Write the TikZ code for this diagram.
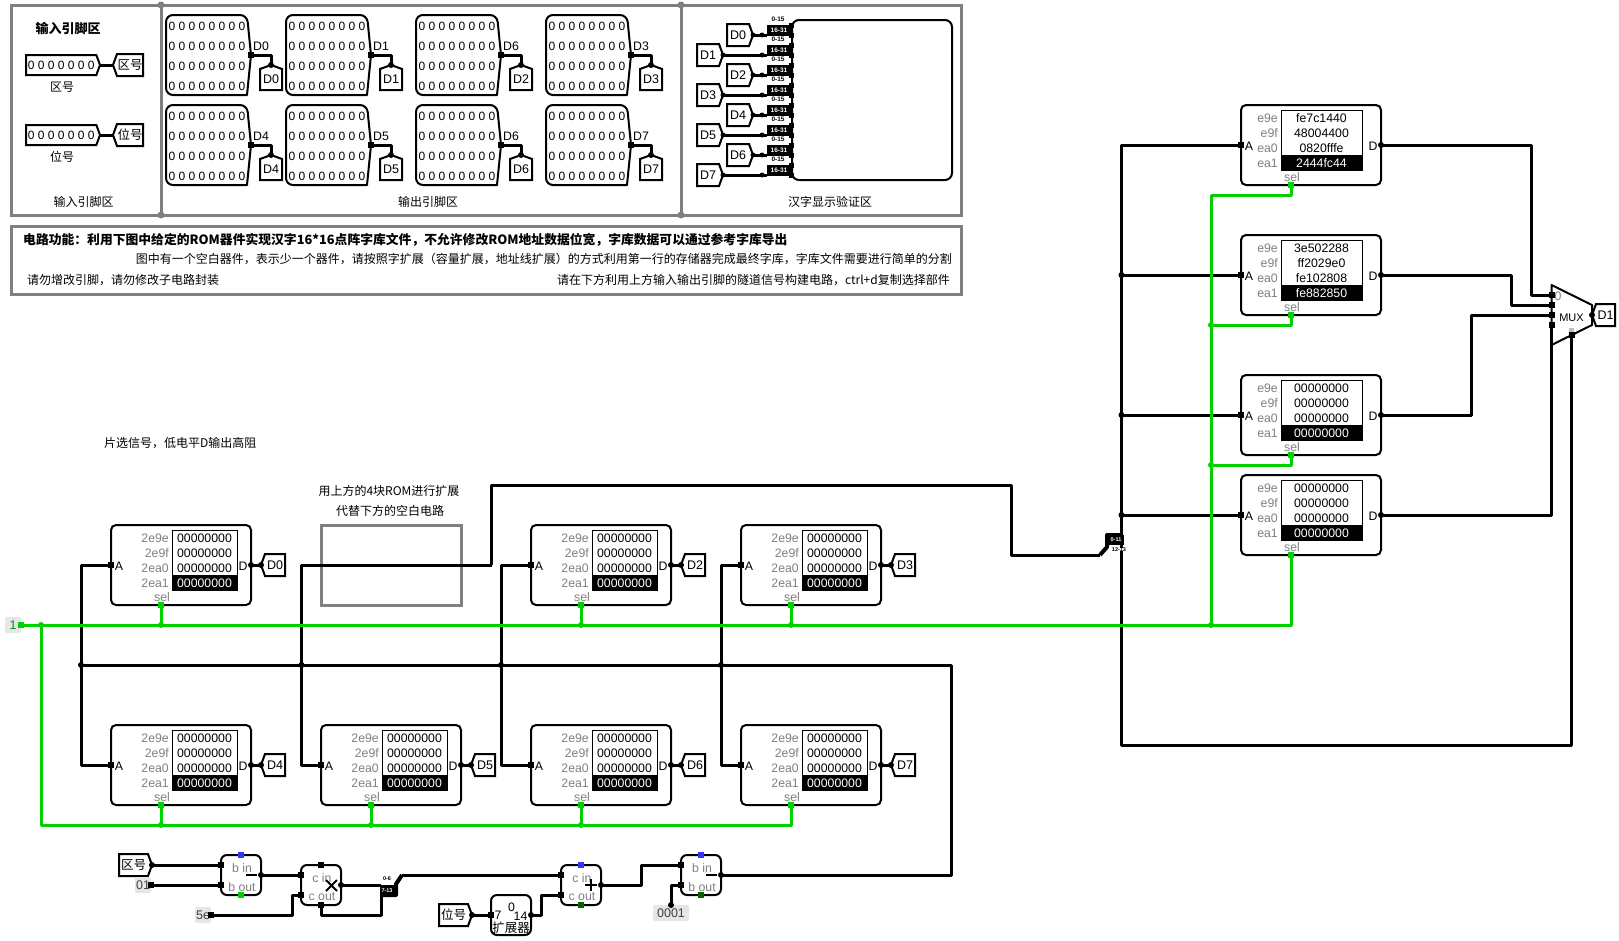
\documentclass[tikz,border=0pt]{standalone}
\usepackage{fontspec}
\setmainfont{Liberation Sans}
\newfontfamily\cjk{Noto Sans CJK SC}
\usetikzlibrary{shapes.geometric, shapes.symbols, arrows, calc, positioning}
\definecolor{wiregreen}{HTML}{00D200}
\definecolor{darkport}{HTML}{006400}
\definecolor{blueport}{HTML}{3333FF}
\definecolor{framegray}{HTML}{808080}
\definecolor{constgray}{HTML}{E6E6E6}
\tikzstyle{wire} = [line width=3pt, line join=round, black]
\tikzstyle{greenwire} = [line width=3pt, line join=round, wiregreen]
\tikzstyle{frame} = [rectangle, line width=3pt, draw=framegray, inner sep=0pt, outer sep=0pt, anchor=north west]
\tikzstyle{rombox} = [rectangle, line width=2pt, draw=black, rounded corners=5pt, minimum width=140pt, minimum height=80pt, inner sep=0pt, outer sep=0pt]
\tikzstyle{pinline} = [line width=2pt, black, line join=round]
\tikzstyle{cn} = [font=\cjk\fontsize{12}{14}\selectfont, inner sep=0pt]
\tikzstyle{cnbold} = [cn, font=\cjk\bfseries\fontsize{12.8}{14}\selectfont]
\tikzstyle{romtext} = [font=\fontsize{12.3}{14}\selectfont, inner sep=0pt]
\tikzstyle{romgray} = [romtext, text=framegray]
\tikzstyle{pintext} = [font=\fontsize{12}{20}\selectfont, inner sep=0pt, align=center]
\tikzstyle{tinytext} = [font=\bfseries\fontsize{6.5}{6.5}\selectfont, inner sep=0pt]
\tikzstyle{splittext} = [tinytext, font=\bfseries\fontsize{5.5}{6}\selectfont]
\tikzstyle{tunnelR} = [signal, signal to=east, signal pointer angle=140, draw, line width=2pt, minimum height=22pt, inner sep=0pt, outer sep=0pt, font=\fontsize{12.5}{14}\selectfont]
\tikzstyle{tunnelL} = [tunnelR, signal to=west]
\tikzstyle{tunnelD} = [tunnelR, signal to=north, minimum width=22pt, minimum height=24pt]
\tikzstyle{constbox} = [rectangle, fill=constgray, rounded corners=2pt, inner sep=0pt, minimum height=16pt, font=\fontsize{12.5}{14}\selectfont, text=black!75]
\newcommand{\sqport}[2][black]{\fill[#1] ($(#2)+(-3,-3)$) rectangle ($(#2)+(3,3)$);}
\newcommand{\dotport}[1]{\fill (#1) circle (3);}
\def\romblank{2e9e/00000000,2e9f/00000000,2ea0/00000000,2ea1/00000000}
\def\romone{e9e/fe7c1440,e9f/48004400,ea0/0820fffe,ea1/2444fc44}
\def\romtwo{e9e/3e502288,e9f/ff2029e0,ea0/fe102808,ea1/fe882850}
\def\romzero{e9e/00000000,e9f/00000000,ea0/00000000,ea1/00000000}
\newcommand{\rom}[6]{%
	\begin{scope}[shift={(#2,#3)}]
		\node (#1) [rombox, anchor=north west] at (0,0) {};
		\draw[line width=1pt] (#4,5) rectangle (#5,65);
		\fill (#4,50) rectangle (#5,65);
		\foreach \addr/\val [count=\i] in #6 {
			\node (#1Addr\i) [romgray, anchor=east] at (#4-3,{13.2+15*(\i-1)}) {\addr};
			\node (#1Val\i) [romtext] at ({(#4+#5)/2},{13.2+15*(\i-1)}) {\ifnum\i=4 \color{white}\fi\val};
		}
		\node (#1LabA) [romtext] at (8,41) {A};
		\node (#1LabD) [romtext] at (132,41) {D};
		\node (#1LabSel) [romgray] at (51,72) {sel};
		\coordinate (#1Sel) at (50,80);
		\sqport{#1.west}
		\dotport{#1.east}
		\sqport[wiregreen]{#1Sel}
	\end{scope}}
\newcommand{\outpin}[5]{%
	\begin{scope}[shift={(#2,#3)}]
		\draw[pinline] (81,0) -- (85,40) -- (81,80) [rounded corners=7pt] -- (0,80) -- (0,0) -- cycle;
		\node (#1Txt) [pintext] at (41,41.5) {0 0 0 0 0 0 0 0\\0 0 0 0 0 0 0 0\\0 0 0 0 0 0 0 0\\0 0 0 0 0 0 0 0};
		\node (#1Lab) [romtext] at (95,31) {#4};
		\coordinate (#1Tip) at (85,40);
		\node (#1Tun) [tunnelD, anchor=north] at (105,50) {#5};
		\draw[wire] (#1Tip) -| (#1Tun.north);
		\sqport{#1Tip}
		\dotport{#1Tun.north}
	\end{scope}}
\newcommand{\arith}[7]{%
	\begin{scope}[shift={(#2,#3)}]
		\node (#1) [rombox, minimum width=40pt, minimum height=40pt, rounded corners=6pt, anchor=north west] at (0,0) {};
		\node (#1In) [romgray] at (21,13) {#4};
		\node (#1Out) [romgray] at (21,32) {#5};
		\coordinate (#1A) at (0,10);
		\coordinate (#1B) at (0,30);
		\coordinate (#1R) at (40,20);
		\coordinate (#1T) at (20,0);
		\coordinate (#1S) at (20,40);
		\sqport{#1A}
		\sqport{#1B}
		\dotport{#1R}
		\sqport[#6]{#1T}
		\sqport[#7]{#1S}
	\end{scope}}

\begin{document}
\begin{tikzpicture}[x=1pt, y=-1pt]
	\useasboundingbox (0,0) rectangle (1619,940);

	% top frames
	\node (InputArea) [frame, minimum width=150pt, minimum height=210pt] at (11,5) {};
	\node (OutputArea) [frame, minimum width=520pt, minimum height=210pt, right = 0pt of InputArea] {};
	\node (DisplayArea) [frame, minimum width=280pt, minimum height=210pt, right = 0pt of OutputArea] {};
	\node (NoteArea) [frame, minimum width=950pt, minimum height=68pt] at (11,226) {};
	\foreach \pt in {InputArea.north east, InputArea.south east, OutputArea.north east, OutputArea.south east}
		\fill[framegray] (\pt) circle (3.5);

	\node (InputTitle) [cnbold, font=\cjk\bfseries\fontsize{13}{14}\selectfont] at (68,28) {输入引脚区};
	\node (InputName) [cn] at (83.5,202) {输入引脚区};
	\node (OutputName) [cn] at (428,202) {输出引脚区};
	\node (DisplayName) [cn] at (830,202) {汉字显示验证区};

	% input pins
	\node (PinArea) [tunnelR, anchor=east, minimum width=74pt, minimum height=20pt, font=\fontsize{12}{14}\selectfont] at (100,65) {0 0 0 0 0 0 0};
	\node (TunArea) [tunnelL, anchor=west, minimum width=30pt, font=\cjk\fontsize{12.5}{14}\selectfont] at (113,65) {区号};
	\node (LabArea) [cn] at (62,87) {区号};
	\node (PinPlace) [tunnelR, anchor=east, minimum width=74pt, minimum height=20pt, font=\fontsize{12}{14}\selectfont] at (100,135) {0 0 0 0 0 0 0};
	\node (TunPlace) [tunnelL, anchor=west, minimum width=30pt, font=\cjk\fontsize{12.5}{14}\selectfont] at (113,135) {位号};
	\node (LabPlace) [cn] at (62,157) {位号};
	\draw[wire] (PinArea.east) -- (TunArea.west);
	\draw[wire] (PinPlace.east) -- (TunPlace.west);

	% output pins
	\foreach \pinname/\px/\py/\lab/\tun in {PinA/166/15/D0/D0, PinB/286/15/D1/D1, PinC/416/15/D6/D2, PinD/546/15/D3/D3,
		PinE/166/105/D4/D4, PinF/286/105/D5/D5, PinG/416/105/D6/D6, PinH/546/105/D7/D7} {
		\outpin{\pinname}{\px}{\py}{\lab}{\tun}
	}

	% display with its splitters
	\node (Display) [rombox, minimum width=160pt, minimum height=160pt, rounded corners=7pt, anchor=north west] at (792,20) {};
	\foreach \name/\tipx/\tipy in {D0/753/35, D1/723/55, D2/753/75, D3/723/95, D4/753/115, D5/723/135, D6/753/155, D7/723/175} {
		\node (Tun\name) [tunnelR, anchor=east, minimum width=26pt] at (\tipx,\tipy) {\name};
		\coordinate (Spl\name) at (767,\tipy);
		\draw[wire] (Tun\name.east) -- (Spl\name);
		\fill (Tun\name.east) circle (2.5);
		\fill (762,\tipy) circle (2.5);
		\fill (767,\tipy-10) rectangle (791,\tipy+1);
		\node (SplLow\name) [tinytext] at (778,\tipy-15.5) {0-15};
		\node (SplHigh\name) [tinytext, text=white] at (779,\tipy-5) {16-31};
	}
	\foreach \py in {25,35,...,175}
		\fill (789,\py-2.5) rectangle (794,\py+2.5);

	% notes
	\node (NoteOne) [cnbold, anchor=west] at (23,240) {电路功能：利用下图中给定的ROM器件实现汉字16*16点阵字库文件，不允许修改ROM地址数据位宽，字库数据可以通过参考字库导出};
	\node (NoteTwo) [cn, anchor=east] at (952,259) {图中有一个空白器件，表示少一个器件，请按照字扩展（容量扩展，地址线扩展）的方式利用第一行的存储器完成最终字库，字库文件需要进行简单的分割};
	\node (NoteThree) [cn, anchor=west] at (27,280) {请勿增改引脚，请勿修改子电路封装};
	\node (NoteFour) [cn, anchor=east] at (950,280) {请在下方利用上方输入输出引脚的隧道信号构建电路，ctrl+d复制选择部件};
	\node (NoteSel) [cn, anchor=west] at (104,443) {片选信号，低电平D输出高阻};
	\node (NoteRomA) [cn] at (389,491) {用上方的4块ROM进行扩展};
	\node (NoteRomB) [cn] at (390,511) {代替下方的空白电路};

	% roms of the lower two rows
	\rom{RomD0}{111}{525}{61}{126}{\romblank}
	\node (RomEmpty) [frame, minimum width=140pt, minimum height=80pt] at (321,525) {};
	\rom{RomD2}{531}{525}{61}{126}{\romblank}
	\rom{RomD3}{741}{525}{61}{126}{\romblank}
	\rom{RomD4}{111}{725}{61}{126}{\romblank}
	\rom{RomD5}{321}{725}{61}{126}{\romblank}
	\rom{RomD6}{531}{725}{61}{126}{\romblank}
	\rom{RomD7}{741}{725}{61}{126}{\romblank}
	% roms of the right column
	\rom{RomHa}{1241}{105}{40}{121}{\romone}
	\rom{RomHb}{1241}{235}{40}{121}{\romtwo}
	\rom{RomHc}{1241}{375}{40}{121}{\romzero}
	\rom{RomHd}{1241}{475}{40}{121}{\romzero}

	\foreach \name in {D0,D2,D3,D4,D5,D6,D7} {
		\node (Out\name) [tunnelL, anchor=west, minimum width=24pt, right = 10pt of Rom\name.east] {\name};
		\draw[wire] (Rom\name.east) -- (Out\name.west);
		\dotport{Out\name.west}
	}

	% address bus
	\coordinate (BusA) at (81,665);
	\coordinate (BusB) at (301.5,665);
	\coordinate (BusC) at (501,665);
	\coordinate (BusD) at (721,665);
	\coordinate (BusEnd) at (951,665);
	\coordinate (TurnB) at (491.5,565);
	\coordinate (TurnC) at (491.5,485);
	\coordinate (TurnD) at (1011.5,485);
	\coordinate (TurnE) at (1011.5,555);
	\coordinate (SplIn) at (1100,555);
	\coordinate (SplAddr) at (1121.5,535);
	\coordinate (SplHigh) at (1121.5,545);
	\coordinate (SelEnd) at (1571.5,745);
	\draw[wire] (RomD0.west) -| (BusA) |- (RomD4.west);
	\draw[wire] (TurnB) -| (BusB) |- (RomD5.west);
	\draw[wire] (RomD2.west) -| (BusC) |- (RomD6.west);
	\draw[wire] (RomD3.west) -| (BusD) |- (RomD7.west);
	\draw[wire] (TurnB) -- (TurnC) -- (TurnD) -- (TurnE) -- (SplIn);
	\foreach \pt in {BusA, BusB, BusC, BusD} {
		\dotport{\pt}
	}

	% mux
	\coordinate (MuxA) at (1551.5,295);
	\coordinate (MuxB) at (1551.5,305);
	\coordinate (MuxC) at (1551.5,315);
	\coordinate (MuxD) at (1551.5,325);
	\coordinate (MuxSel) at (1571.5,335);
	\coordinate (MuxOut) at (1592,315);
	\draw[pinline] (1551.5,285) -- (1592,305) -- (1592,325) -- (1551.5,345) -- cycle;
	\node (MuxZero) [romgray] at (1558,296) {0};
	\node (MuxName) [romtext, font=\fontsize{11}{14}\selectfont] at (1571.5,318) {MUX};
	\node (TunD1) [tunnelL, anchor=west, minimum width=23pt] at (MuxOut) {D1};
	\draw[wire] (RomHa.east) -| (1531.5,295) -- (MuxA);
	\draw[wire] (RomHb.east) -| (1511.5,305) -- (MuxB);
	\draw[wire] (RomHc.east) -| (1471.5,315) -- (MuxC);
	\draw[wire] (RomHd.east) -| (MuxD);
	\draw[wire] (SplHigh) |- (SelEnd) -- (MuxSel);
	\foreach \pt in {MuxA, MuxB, MuxC, MuxD} {
		\sqport{\pt}
	}
	\sqport{MuxSel}
	\fill[black!25] (1569,328) rectangle (1574,332);
	\dotport{MuxOut}

	% right column address
	\draw[wire] (RomHa.west) -| (SplHigh);
	\foreach \name in {RomHb, RomHc, RomHd} {
		\draw[wire] (\name.west -| SplAddr) -- (\name.west);
		\fill (\name.west -| SplAddr) circle (3);
	}
	% splitter on the address bus
	\draw[line width=4pt, line join=round] (SplIn) -- (1107,547) -- (1107,535) -- (SplAddr);
	\fill (1107,535) rectangle (1124,544.5);
	\node (SplLowAddr) [splittext, text=white] at (1116,540) {0-11};
	\node (SplHighAddr) [splittext, fill=white] at (1119,549.5) {12-13};

	% chip select
	\coordinate (SelIn) at (21,625);
	\coordinate (SelLeft) at (41,625);
	\coordinate (SelDown) at (41,825);
	\coordinate (SelCol) at (1211,625);
	\coordinate (SelColTop) at (1211,195);
	\node (ConstOne) [constbox, minimum width=16pt, text=wiregreen!70!black] at (13,625) {1};
	\draw[greenwire] (SelIn) -- (RomHdSel |- SelIn) -- (RomHdSel);
	\draw[greenwire] (SelLeft) -- (SelDown) -| (RomD7Sel);
	\draw[greenwire] (SelCol) -- (SelColTop) -| (RomHaSel);
	\draw[greenwire] (RomHbSel) |- (1211,325);
	\draw[greenwire] (RomHcSel) |- (1211,465);
	\foreach \name in {RomD0, RomD2, RomD3} {
		\draw[greenwire] (\name Sel) -- (\name Sel |- SelIn);
		\fill[wiregreen] (\name Sel |- SelIn) circle (3);
	}
	\foreach \name in {RomD4, RomD5, RomD6} {
		\draw[greenwire] (\name Sel) -- (\name Sel |- SelDown);
		\fill[wiregreen] (\name Sel |- SelDown) circle (3);
	}
	\foreach \pt in {SelLeft, SelCol}
		\fill[wiregreen] (\pt) circle (3);
	\fill[wiregreen] (1211,325) circle (3);
	\fill[wiregreen] (1211,465) circle (3);
	\sqport[wiregreen]{SelIn}

	% address calculation
	\arith{SubA}{221}{855}{b in}{b out}{blueport}{wiregreen}
	\arith{Mul}{301}{865}{c in}{c out}{black}{black}
	\arith{Add}{561}{865}{c in}{c out}{blueport}{darkport}
	\arith{SubB}{681}{855}{b in}{b out}{blueport}{darkport}
	\draw[line width=2pt] (246,875) -- (257,875);
	\draw[line width=2pt] (326,880) -- (337,891) (326,891) -- (337,880);
	\draw[line width=2pt] (585,885) -- (597,885) (591,879) -- (591,891);
	\draw[line width=2pt] (706,875) -- (717,875);

	\node (TunAreaB) [tunnelR, anchor=east, minimum width=33pt, font=\cjk\fontsize{12.5}{14}\selectfont] at (152,865) {区号};
	\node (ConstZero) [constbox, minimum width=16pt] at (143,885) {01};
	\node (ConstMul) [constbox, minimum width=16pt] at (203,915) {5e};
	\node (ConstSub) [constbox, minimum width=36pt] at (671,913) {0001};
	\node (TunPlaceB) [tunnelR, anchor=east, minimum width=33pt, font=\cjk\fontsize{12.5}{14}\selectfont] at (472,915) {位号};
	\node (Extend) [rombox, minimum width=40pt, minimum height=40pt, rounded corners=6pt, anchor=north west] at (491,895) {};
	\node (ExtZero) [romtext] at (511.5,907) {0};
	\node (ExtIn) [romtext] at (498,915) {7};
	\node (ExtOut) [romtext] at (520.5,916) {14};
	\node (ExtName) [cn, font=\cjk\fontsize{12.5}{14}\selectfont] at (511,928) {扩展器};
	\coordinate (ExtA) at (491,915);
	\coordinate (ExtB) at (531,915);
	\coordinate (SplMul) at (381,885);
	\coordinate (SplExt) at (381,895);
	\coordinate (SplOut) at (402,875);
	\coordinate (ConstOneR) at (151,885);
	\coordinate (ConstMulR) at (211,915);
	\coordinate (ConstSubT) at (671,905);

	\draw[wire] (TunAreaB.east) -- (SubAA);
	\draw[wire] (ConstOneR) -- (SubAB);
	\draw[wire] (SubAR) -- (MulA);
	\draw[wire] (MulR) -- (SplMul);
	\draw[wire] (ConstMulR) -| (292,895) -- (MulB);
	\draw[wire] (MulS) |- (381,915) -- (SplExt);
	\draw[wire] (SplOut) -- (AddA);
	\draw[line width=4pt, line join=round] (SplExt) -- (396,895) -- (396,884) -- (SplOut);
	\fill (380,885) rectangle (396,896);
	\node (SplLowMul) [splittext] at (387,879) {0-6};
	\node (SplHighMul) [splittext, text=white] at (387,890.5) {7-13};
	\draw[wire] (TunPlaceB.east) -- (ExtA);
	\draw[wire] (ExtB) -| (541,895) -- (AddB);
	\draw[wire] (AddR) -| (641,865) -- (SubBA);
	\draw[wire] (ConstSubT) |- (SubBB);
	\draw[wire] (BusA) -- (BusEnd) |- (SubBR);
	\foreach \pt in {TunAreaB.east, TunPlaceB.east, ExtB, ConstSubT} {
		\dotport{\pt}
	}
	\foreach \pt in {ExtA, ConstOneR, ConstMulR} {
		\sqport{\pt}
	}
\end{tikzpicture}
\end{document}
